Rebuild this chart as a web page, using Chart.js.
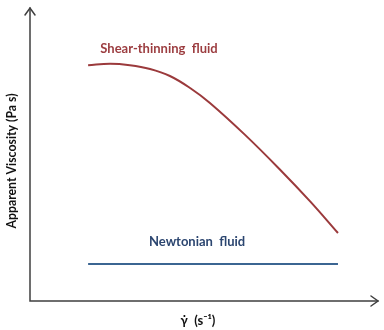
<!DOCTYPE html>
<html>
<head>
<meta charset="utf-8">
<script src="https://cdn.jsdelivr.net/npm/chart.js@4"></script>
<style>
html,body{margin:0;padding:0;background:#fff;}
#wrap{width:384px;height:330px;}
</style>
</head>
<body>
<div id="wrap"><canvas id="c" width="384" height="330"></canvas></div>
<script>
// Shear rate (arbitrary units) and apparent viscosity (arbitrary units)
const shearRate = [16.7, 23.0, 28.7, 34.5, 40.2, 46.0, 51.7, 61.8, 71.8, 80.5, 88.5];
const shearThinning = [80.5, 81.0, 80.5, 79.2, 76.8, 72.7, 67.6, 56.7, 44.9, 34.0, 23.2];
const newtonianRate = [16.7, 88.5];
const newtonian = [12.6, 12.6];
const seriesLabels = ['Shear-thinning  fluid', 'Newtonian  fluid'];
const labelPos = [[20.2, 86.2], [34.2, 20.3]]; // [x, y] where each series name is written
const xTitle = '\u03B3\u0307  (s\u207B\u00B9)';
const yTitle = 'Apparent Viscosity (Pa s)';

const RED = '#9b3a3c';
const BLUE = '#3b6592';
const RED_TEXT = '#9c3d40';
const BLUE_TEXT = '#2c4670';
const AXIS = '#3f3f3f';
const FONT = 'Lato, "Open Sans", sans-serif';

const arrowsAndLabels = {
  id: 'arrowsAndLabels',
  afterDatasetsDraw(chart) {
    const {ctx, chartArea: a, scales} = chart;
    ctx.save();
    ctx.strokeStyle = AXIS;
    ctx.lineWidth = 1.5;
    ctx.lineCap = 'round';
    // axes
    ctx.beginPath();
    ctx.moveTo(a.left, a.top);
    ctx.lineTo(a.left, a.bottom);
    ctx.lineTo(a.right, a.bottom);
    ctx.stroke();
    // y arrow head
    ctx.beginPath();
    ctx.moveTo(a.left - 5, a.top + 7);
    ctx.lineTo(a.left, a.top);
    ctx.lineTo(a.left + 5, a.top + 7);
    ctx.stroke();
    // x arrow head
    ctx.beginPath();
    ctx.moveTo(a.right - 7, a.bottom - 5);
    ctx.lineTo(a.right, a.bottom);
    ctx.lineTo(a.right - 7, a.bottom + 5);
    ctx.stroke();
    // series labels
    ctx.font = 'bold 13px ' + FONT;
    ctx.textAlign = 'left';
    ctx.textBaseline = 'middle';
    const colors = [RED_TEXT, BLUE_TEXT];
    seriesLabels.forEach((t, i) => {
      ctx.fillStyle = colors[i];
      ctx.fillText(t, scales.x.getPixelForValue(labelPos[i][0]), scales.y.getPixelForValue(labelPos[i][1]));
    });
    // axis titles
    ctx.fillStyle = '#111';
    ctx.font = 'bold 12.3px ' + FONT;
    ctx.textAlign = 'center';
    ctx.save();
    ctx.translate(12, a.top + 153);
    ctx.rotate(-Math.PI / 2);
    ctx.fillText(yTitle, 0, 0);
    ctx.restore();
    ctx.font = 'bold 13px ' + FONT;
    ctx.fillText(xTitle, a.left + 168, a.bottom + 20);
    ctx.restore();
  }
};

new Chart(document.getElementById('c'), {
  type: 'line',
  data: {
    datasets: [
      {
        label: seriesLabels[0],
        data: shearRate.map((x, i) => ({x, y: shearThinning[i]})),
        borderColor: RED,
        borderWidth: 2,
        pointRadius: 0,
        tension: 0.4,
        fill: false
      },
      {
        label: seriesLabels[1],
        data: newtonianRate.map((x, i) => ({x, y: newtonian[i]})),
        borderColor: BLUE,
        borderWidth: 2,
        pointRadius: 0,
        fill: false
      }
    ]
  },
  options: {
    responsive: false,
    animation: false,
    devicePixelRatio: 1,
    layout: {padding: {left: 30, top: 8, right: 6, bottom: 29}},
    plugins: {legend: {display: false}, tooltip: {enabled: false}},
    scales: {
      x: {type: 'linear', min: 0, max: 100, display: false},
      y: {type: 'linear', min: 0, max: 100, display: false}
    }
  },
  plugins: [arrowsAndLabels]
});
</script>
</body>
</html>
